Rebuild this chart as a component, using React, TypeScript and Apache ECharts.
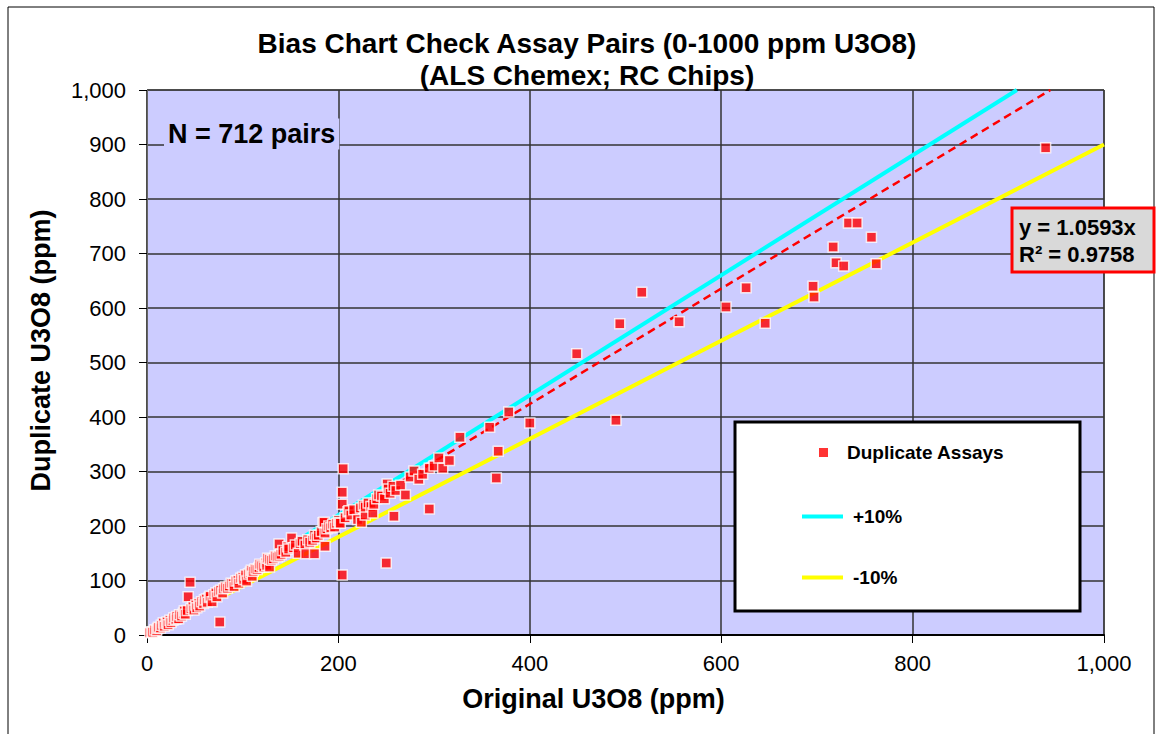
import { useEffect, useRef } from 'react';
import * as echarts from 'echarts';

// ---- data ----
const lowRangePairs: [number, number][] = [
  [3, 4], [5, 6], [6, 5], [8, 9], [10, 8], [11, 12], [12, 14], [14, 13], [15, 18], [17, 22],
  [18, 16], [20, 21], [21, 24], [22, 19], [24, 27], [25, 23], [27, 27], [28, 31], [30, 29], [31, 34],
  [33, 30], [34, 37], [36, 35], [38, 40], [39, 44], [40, 38], [42, 45], [43, 70], [45, 97], [46, 48],
  [48, 52], [49, 46], [51, 55], [52, 50], [54, 58], [55, 53], [57, 61], [59, 58], [60, 64], [62, 66],
  [63, 60], [65, 69], [66, 71], [68, 61], [70, 74], [72, 77], [73, 70], [76, 24], [75, 80], [77, 82],
  [79, 77], [80, 85], [82, 88], [84, 86], [86, 90], [88, 95], [90, 94], [91, 89], [93, 99], [95, 100],
  [96, 95], [98, 104], [100, 106], [101, 102], [103, 110], [104, 99], [106, 112], [108, 115], [109, 119], [110, 108],
  [111, 117], [113, 121], [115, 120], [117, 124], [118, 130], [120, 127], [122, 125], [124, 132], [125, 128], [126, 141],
  [128, 125], [128, 139], [130, 137], [132, 140], [134, 145], [136, 143], [138, 145], [138, 167],
];
const midRangePairs: [number, number][] = [
  [140, 148], [142, 155], [145, 152], [147, 162], [148, 158], [151, 178], [153, 160], [155, 165], [158, 150], [160, 168],
  [162, 172], [165, 165], [166, 149], [168, 175], [170, 170], [173, 174], [175, 149], [175, 183], [177, 178], [179, 183],
  [182, 190], [184, 206], [185, 207], [186, 163], [186, 187], [188, 195], [190, 200], [192, 197], [194, 203], [196, 198],
  [198, 205], [200, 210], [201, 206], [202, 205], [204, 110], [204, 240], [204, 262], [205, 305], [207, 215], [210, 226],
  [211, 228], [213, 220], [216, 230], [220, 212], [223, 233], [224, 207], [226, 238], [228, 220], [228, 235], [231, 242],
  [234, 236], [236, 224], [237, 240], [240, 250], [242, 257], [245, 255], [248, 250], [250, 132], [251, 277], [252, 268],
  [254, 260], [257, 273], [258, 218], [260, 265], [265, 275], [270, 257], [275, 290], [279, 301], [284, 286], [288, 295],
  [295, 231], [295, 306], [300, 310],
];
const highRangePairs: [number, number][] = [
  [305, 325], [309, 306], [316, 320], [327, 363], [358, 381], [365, 288], [367, 337], [378, 409], [400, 389], [449, 516],
  [490, 394], [494, 571], [517, 629], [556, 575], [605, 602], [626, 637], [646, 572], [696, 640], [697, 620], [717, 712],
  [720, 683], [728, 677], [733, 756], [742, 756], [757, 730], [762, 681], [939, 894],
];
const plusTenLine: [number, number][] = [[0, 0], [909, 1000]];
const minusTenLine: [number, number][] = [[0, 0], [1000, 900]];
const trendLine: [number, number][] = [[0, 0], [944, 1000]];

const seriesNames = ['Duplicate Assays', '+10%', '-10%', 'Linear (Duplicate Assays)'];
const titleLines = ['Bias Chart Check Assay Pairs (0-1000 ppm U3O8)', '(ALS Chemex; RC Chips)'];
const xAxisName = 'Original U3O8 (ppm)';
const yAxisName = 'Duplicate U3O8 (ppm)';
const pairCountLabel = 'N = 712 pairs';
const equationLines = ['y = 1.0593x', 'R² = 0.9758'];
const axisMin = 0;
const axisMax = 1000;
const xTickStep = 200;
const yTickStep = 100;

const FONT = '"Liberation Sans", Arial, sans-serif';

export default function App() {
  const ref = useRef<HTMLDivElement>(null);
  useEffect(() => {
    if (!ref.current) return;
    const chart = echarts.init(ref.current, undefined, { renderer: 'svg' });
    const fmt = (v: number) => v.toLocaleString('en-US');
    const axisCommon = {
      type: 'value' as const,
      min: axisMin,
      max: axisMax,
      nameLocation: 'middle' as const,
      axisLine: { show: true, onZero: false, lineStyle: { color: '#000', width: 2 } },
      axisTick: { show: true, length: 8, lineStyle: { color: '#000', width: 1 } },
      axisLabel: { fontSize: 22, color: '#000', fontFamily: FONT, formatter: fmt },
      splitLine: { show: true, lineStyle: { color: '#333', width: 1.5 } },
    };
    chart.setOption({
      animation: false,
      backgroundColor: '#fff',
      title: {
        text: titleLines.join('\n'),
        left: 582,
        top: 22,
        textAlign: 'center',
        textStyle: { fontSize: 28, fontWeight: 'bold', color: '#000', fontFamily: FONT, lineHeight: 32 },
      },
      grid: {
        left: 147, right: 52, top: 90, bottom: 99,
        show: true, backgroundColor: '#CCCCFF', borderColor: '#333', borderWidth: 1,
      },
      xAxis: {
        ...axisCommon,
        interval: xTickStep,
        name: xAxisName,
        nameGap: 50,
        nameTextStyle: { fontSize: 27, fontWeight: 'bold', color: '#000', fontFamily: FONT, padding: [0, 64, 0, 0] },
        axisLabel: { ...axisCommon.axisLabel, margin: 17 },
      },
      yAxis: {
        ...axisCommon,
        interval: yTickStep,
        name: yAxisName,
        nameGap: 93,
        axisLine: { show: true, onZero: false, lineStyle: { color: '#666', width: 1 } },
        nameTextStyle: { fontSize: 27, fontWeight: 'bold', color: '#000', fontFamily: FONT, padding: [0, 0, 0, 24] },
        axisLabel: { ...axisCommon.axisLabel, margin: 21 },
      },
      legend: [
        {
          data: [{ name: seriesNames[0], icon: 'rect' }],
          left: 819, top: 443, padding: 0,
          itemWidth: 9, itemHeight: 9,
          selectedMode: false, z: 10,
          itemStyle: { borderWidth: 0 },
          textStyle: { fontSize: 19, fontWeight: 'bold', color: '#000', fontFamily: FONT, padding: [0, 0, 0, 14] },
        },
        {
          data: [{ name: seriesNames[1], icon: 'rect' }, { name: seriesNames[2], icon: 'rect' }],
          orient: 'vertical',
          left: 802, top: 507, padding: 0,
          itemWidth: 41, itemHeight: 4, itemGap: 42,
          selectedMode: false, z: 10,
          textStyle: { fontSize: 19, fontWeight: 'bold', color: '#000', fontFamily: FONT, padding: [0, 0, 0, 5] },
        },
      ],
      graphic: [
        { type: 'rect', shape: { x: 8, y: 7, width: 1146, height: 760 }, style: { fill: 'none', stroke: '#000', lineWidth: 1 }, z: 1 },
        {
          type: 'text', x: 164, y: 134, z: 6,
          style: {
            text: pairCountLabel, font: `bold 27px ${FONT}`, fill: '#000',
            verticalAlign: 'middle', backgroundColor: '#CCCCFF', padding: [2, 4, 2, 4],
          },
        },
        { type: 'rect', shape: { x: 1012, y: 208, width: 142, height: 64 }, style: { fill: '#D9D9D9', stroke: '#FF0000', lineWidth: 3 }, z: 6 },
        { type: 'text', x: 1019, y: 227, z: 7, style: { text: equationLines[0], font: `bold 22px ${FONT}`, fill: '#000', verticalAlign: 'middle' } },
        { type: 'text', x: 1019, y: 254, z: 7, style: { text: equationLines[1], font: `bold 22px ${FONT}`, fill: '#000', verticalAlign: 'middle' } },
        { type: 'rect', shape: { x: 735, y: 422, width: 345, height: 189 }, style: { fill: '#fff', stroke: '#000', lineWidth: 3 }, z: 6 },
      ],
      series: [
        {
          name: seriesNames[0],
          type: 'scatter',
          data: [...lowRangePairs, ...midRangePairs, ...highRangePairs],
          symbol: 'rect',
          symbolSize: 10,
          itemStyle: { color: '#FF0000', borderColor: '#FFFFFF', borderWidth: 1.5 },
          z: 4,
        },
        {
          name: seriesNames[1], type: 'line', data: plusTenLine, symbol: 'none',
          lineStyle: { color: '#00FFFF', width: 4 }, itemStyle: { color: '#00FFFF' }, z: 2,
        },
        {
          name: seriesNames[2], type: 'line', data: minusTenLine, symbol: 'none',
          lineStyle: { color: '#FFFF00', width: 4 }, itemStyle: { color: '#FFFF00' }, z: 2,
        },
        {
          name: seriesNames[3], type: 'line', data: trendLine, symbol: 'none',
          lineStyle: { color: '#FF0000', width: 2.5, type: [8, 5] }, itemStyle: { color: '#FF0000' }, z: 3,
        },
      ],
    });
    return () => chart.dispose();
  }, []);
  return <div ref={ref} style={{ position: 'absolute', left: 0, top: 0, width: 1156, height: 734 }} />;
}
